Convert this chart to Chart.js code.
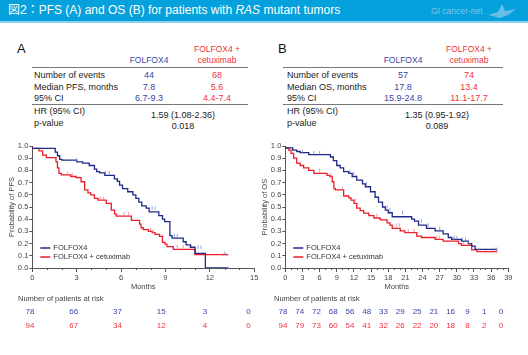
<!DOCTYPE html>
<html><head><meta charset="utf-8">
<script src="https://cdn.jsdelivr.net/npm/chart.js@4/dist/chart.umd.min.js"></script>
<style>
body{margin:0;width:528px;height:355px;position:relative;background:#fff;font-family:"Liberation Sans",Arial,sans-serif;overflow:hidden}
#hdr{position:absolute;left:0;top:0;width:528px;height:21px;background:#05a1dd;border-bottom:2px solid #8ed1ef}
#ttl{position:absolute;left:8px;top:3px;color:#fff;font-size:12px;line-height:15px;white-space:nowrap;font-family:"Liberation Sans","Noto Sans CJK JP",sans-serif}
#brand{position:absolute;left:431px;top:6px;color:#7fc6ea;font-size:8.5px;line-height:10px;white-space:nowrap}
.t{position:absolute;white-space:nowrap;line-height:11px;transform:translateY(-50%)}
.c{transform:translate(-50%,-50%);text-align:center}
.hl{position:absolute;height:1px;background:#777}
canvas{position:absolute}
</style></head>
<body>
<div id="hdr"><div id="ttl">図2：PFS (A) and OS (B) for patients with <i>RAS</i> mutant tumors</div>
<div id="brand">GI cancer-net</div>
<svg style="position:absolute;left:486px;top:1px" width="36" height="20"><polygon points="2,14 12,11 16,3 19,10 30,8 22,14 14,17" fill="#7fc6ea" opacity="0.8"/></svg>
</div>
<div id="tables"></div>
<canvas id="cA" width="264" height="200" style="left:0;top:135px"></canvas>
<canvas id="cB" width="272" height="200" style="left:256px;top:135px"></canvas>
<script>
// ---------- data ----------
const seriesNames = ['FOLFOX4', 'FOLFOX4 + cetuximab'];
const tableHeaders = ['FOLFOX4', 'FOLFOX4 +', 'cetuximab'];
const tableRowLabelsA = ['Number of events', 'Median PFS, months', '95% CI'];
const tableFolfoxA = ['44', '7.8', '6.7-9.3'];
const tableCetuxA = ['68', '5.6', '4.4-7.4'];
const hrA = '1.59 (1.08-2.36)';
const pA = '0.018';
const tableRowLabelsB = ['Number of events', 'Median OS, months', '95% CI'];
const tableFolfoxB = ['57', '17.8', '15.9-24.8'];
const tableCetuxB = ['74', '13.4', '11.1-17.7'];
const hrB = '1.35 (0.95-1.92)';
const pB = '0.089';

const pfsMonthsFolfox = [0,1.55,1.7,1.85,2.0,3.0,3.4,3.85,4.2,4.35,4.55,4.9,5.55,5.75,5.9,6.1,6.45,6.8,7.0,7.2,7.4,7.7,7.9,8.55,8.8,8.95,9.3,9.45,10.2,10.4,10.7,11.0,11.7,13.25];
const pfsProbFolfox   = [1,0.98,0.95,0.92,0.89,0.885,0.87,0.86,0.84,0.81,0.79,0.78,0.76,0.73,0.71,0.68,0.65,0.625,0.60,0.57,0.54,0.51,0.49,0.46,0.43,0.40,0.38,0.265,0.245,0.215,0.19,0.17,0.12,0.0];
const pfsMonthsCetux  = [0,0.45,0.7,0.95,1.6,1.7,1.8,1.96,2.6,2.97,3.3,3.54,3.76,3.95,4.2,4.44,5.0,5.34,5.56,5.67,6.7,7.25,7.35,7.5,7.85,8.1,8.3,8.6,8.8,8.97,9.1,9.53,11.0,12.6,13.25];
const pfsProbCetux    = [1,0.98,0.96,0.926,0.905,0.87,0.82,0.776,0.764,0.75,0.74,0.707,0.64,0.615,0.60,0.57,0.557,0.53,0.475,0.443,0.426,0.39,0.36,0.33,0.315,0.30,0.29,0.275,0.26,0.21,0.195,0.175,0.153,0.11,0.11];
const pfsCensorFolfox = [3.0,4.95,5.2,8.1,8.3,9.6,9.8,11.2,11.4,13.0];
const pfsCensorCetux  = [2.4,2.7,4.6,4.8,6.2,6.5,8.0,8.2,9.8,10.2,10.6,12.9,13.1];

const osMonthsFolfox = [0,1.3,2.0,2.6,4.1,7.9,8.4,9.0,9.6,10.2,11.1,11.7,12.5,13.5,14.0,14.9,15.7,16.3,17.0,17.5,18.0,18.7,22.1,22.6,23.3,24.7,26.2,27.6,28.5,29.1,30.8,32.0,32.6,33.2,33.5,37.0];
const osProbFolfox   = [1,0.985,0.967,0.955,0.945,0.93,0.91,0.88,0.84,0.82,0.79,0.776,0.75,0.72,0.69,0.666,0.625,0.58,0.54,0.50,0.475,0.453,0.42,0.40,0.385,0.352,0.325,0.305,0.28,0.25,0.235,0.22,0.20,0.18,0.153,0.153];
const osMonthsCetux  = [0,0.6,1.0,1.46,2.0,2.6,3.2,4.1,5.0,7.3,7.8,8.2,8.5,8.75,10.2,11.1,11.5,12.0,12.5,13.1,13.7,14.6,15.5,16.6,17.8,18.3,18.7,20.1,20.9,23.0,23.8,26.2,27.6,30.3,30.8,32.6,33.5,33.8,37.0];
const osProbCetux    = [1,0.98,0.967,0.94,0.90,0.86,0.84,0.82,0.80,0.776,0.76,0.75,0.707,0.65,0.64,0.59,0.575,0.557,0.53,0.49,0.47,0.45,0.43,0.41,0.395,0.37,0.352,0.325,0.305,0.29,0.262,0.25,0.235,0.22,0.20,0.185,0.148,0.135,0.135];
const osCensorFolfox = [3.0,5.0,6.0,11.3,12.0,14.2,17.8,18.3,20.5,23.8,25.0,27.0,29.5,30.0,31.0,31.5,32.0,36.5,37.0];
const osCensorCetux  = [6.0,8.0,10.0,12.3,16.0,19.5,20.0,21.5,22.5,26.5,27.0,29.5,31.2,32.0,33.7,35.0,36.0,37.0];

const pfsTicks = [0,3,6,9,12,15];
const osTicks = [0,3,6,9,12,15,18,21,24,27,30,33,36,39];
const riskPfsFolfox = [78,66,37,15,3,0];
const riskPfsCetux  = [94,67,34,12,4,0];
const riskOsFolfox  = [78,74,72,68,56,48,33,29,25,21,16,9,1,0];
const riskOsCetux   = [94,79,73,60,54,41,32,26,22,20,18,8,2,0];

// ---------- styles ----------
const BLUE = '#1c2a86', RED = '#ec1c2a';
const BLUE_LT = 'rgba(110,128,200,0.7)', RED_LT = 'rgba(240,120,130,0.75)';
const BLUE_TXT = '#3646a6', RED_TXT = '#f0303e';
const FAM = '"Liberation Sans", Arial, sans-serif';

// ---------- tables ----------
const tb = document.getElementById('tables');
function txt(s, x, y, opt) {
  const d = document.createElement('div');
  d.className = 't' + (opt.center ? ' c' : '');
  d.textContent = s;
  d.style.left = x + 'px'; d.style.top = y + 'px';
  d.style.fontSize = (opt.size || 9) + 'px';
  d.style.color = opt.color || '#222';
  tb.appendChild(d);
}
function hline(x1, x2, y) {
  const d = document.createElement('div');
  d.className = 'hl';
  d.style.left = x1 + 'px'; d.style.top = y + 'px'; d.style.width = (x2 - x1) + 'px';
  tb.appendChild(d);
}
function table(letter, lx, labx, c1, c2, hrx, x1, x2, labels, v1, v2, hr, p) {
  txt(letter, lx, 48, {size: 13, color: '#111'});
  txt(tableHeaders[0], c1, 59.5, {center: true, size: 8.5, color: BLUE_TXT});
  txt(tableHeaders[1], c2, 48.5, {center: true, size: 8.5, color: RED_TXT});
  txt(tableHeaders[2], c2, 59.5, {center: true, size: 8.5, color: RED_TXT});
  hline(x1, x2, 66.5);
  const ys = [75, 86.5, 98];
  labels.forEach((l, i) => {
    txt(l, labx, ys[i], {size: 9});
    txt(v1[i], c1, ys[i], {center: true, size: 9, color: BLUE_TXT});
    txt(v2[i], c2, ys[i], {center: true, size: 9, color: RED_TXT});
  });
  hline(x1, x2, 103.5);
  txt('HR (95% CI)', labx, 110.5, {size: 9});
  txt('p-value', labx, 122.5, {size: 9});
  txt(hr, hrx, 115, {center: true, size: 9});
  txt(p, hrx, 125.5, {center: true, size: 9});
}
table('A', 17, 34, 149, 217, 183, 32, 248, tableRowLabelsA, tableFolfoxA, tableCetuxA, hrA, pA);
table('B', 278, 287, 403, 469, 437, 283, 503, tableRowLabelsB, tableFolfoxB, tableCetuxB, hrB, pB);

// ---------- charts ----------
const extras = {
  id: 'extras',
  afterDraw(chart) {
    const o = chart.options.plugins.extras;
    const ctx = chart.ctx, xs = chart.scales.x, ca = chart.chartArea;
    ctx.save();
    ctx.strokeStyle = '#555'; ctx.lineWidth = 1;
    ctx.beginPath();
    for (let m = 0; m <= xs.max; m++) {
      if (m % 3 === 0) continue;
      const px = Math.round(xs.getPixelForValue(m)) + 0.5;
      ctx.moveTo(px, ca.bottom); ctx.lineTo(px, ca.bottom + 2);
    }
    ctx.stroke();
    const ly = [ca.bottom - 20, ca.bottom - 11];
    const cols = [BLUE, RED];
    ctx.font = '7.5px ' + FAM; ctx.textBaseline = 'middle'; ctx.fillStyle = '#333';
    seriesNames.forEach((n, i) => {
      ctx.strokeStyle = cols[i]; ctx.lineWidth = 1.5;
      ctx.beginPath(); ctx.moveTo(ca.left + 8, ly[i]); ctx.lineTo(ca.left + 18, ly[i]); ctx.stroke();
      ctx.fillText(n, ca.left + 21, ly[i]);
    });
    ctx.fillStyle = '#444'; ctx.textAlign = 'left';
    ctx.fillText('Number of patients at risk', o.labelX, 164);
    ctx.font = '8px ' + FAM; ctx.textAlign = 'center';
    const rows = [[o.risk1, BLUE_TXT, 177], [o.risk2, RED_TXT, 191]];
    rows.forEach(([arr, c, y]) => {
      ctx.fillStyle = c;
      arr.forEach((v, i) => {
        const px = xs.getPixelForValue(o.ticks[i]);
        const x = ca.left + (px - ca.left) * o.riskScale + o.riskShift;
        ctx.fillText(String(v), x, y);
      });
    });
    ctx.restore();
  }
};

function stepAt(t, s, x) {
  let y = s[0];
  for (let i = 0; i < t.length; i++) { if (t[i] <= x) y = s[i]; }
  return y;
}

function km(canvasId, t1, s1, c1, t2, s2, c2, xTicks, xmax, yWidth, rightPad, yTitle, risk1, risk2, labelX, riskScale, riskShift, yTitlePad) {
  const ds = (t, s, c) => ({
    data: t.map((v, i) => ({x: v, y: s[i]})),
    borderColor: c, borderWidth: 1.3, stepped: 'after', pointRadius: 0, fill: false
  });
  const cs = (cens, t, s, c) => ({
    data: cens.map(v => ({x: v, y: stepAt(t, s, v)})),
    showLine: false, pointStyle: 'line', rotation: 90, pointRadius: 1.8,
    pointBorderColor: c, pointBorderWidth: 1, borderColor: c
  });
  return new Chart(document.getElementById(canvasId), {
    type: 'line',
    data: {datasets: [cs(c1, t1, s1, BLUE_LT), cs(c2, t2, s2, RED_LT), ds(t1, s1, BLUE), ds(t2, s2, RED)]},
    plugins: [extras],
    options: {
      responsive: false, animation: false, devicePixelRatio: 1,
      layout: {padding: {left: 0, right: rightPad, top: 11, bottom: 40}},
      plugins: {
        legend: {display: false}, tooltip: {enabled: false},
        extras: {risk1, risk2, ticks: xTicks, labelX, riskScale, riskShift}
      },
      scales: {
        x: {
          type: 'linear', min: 0, max: xmax,
          afterFit(s) { s.height = 27; },
          afterBuildTicks(s) { s.ticks = xTicks.map(v => ({value: v})); },
          grid: {drawOnChartArea: false, tickLength: 4, tickColor: '#555'},
          border: {color: '#555', width: 1},
          ticks: {font: {size: 7.5, family: FAM}, color: '#444', padding: 1, maxRotation: 0, autoSkip: false},
          title: {display: true, text: 'Months', font: {size: 7.5, family: FAM}, color: '#444', padding: {top: 0, bottom: 4}}
        },
        y: {
          min: 0, max: 1,
          afterFit(s) { s.width = yWidth; },
          grid: {drawOnChartArea: false, tickLength: 3, tickColor: '#555'},
          border: {color: '#555', width: 1},
          ticks: {stepSize: 0.1, font: {size: 7.5, family: FAM}, color: '#444', padding: 1, callback: v => Number(v).toFixed(1)},
          title: {display: true, text: yTitle, font: {size: 7.5, family: FAM}, color: '#444', padding: {top: yTitlePad, bottom: 0}}
        }
      }
    }
  });
}

km('cA', pfsMonthsFolfox, pfsProbFolfox, pfsCensorFolfox, pfsMonthsCetux, pfsProbCetux, pfsCensorCetux, pfsTicks, 15, 32.3, 9.8,
   'Probability of PFS', riskPfsFolfox, riskPfsCetux, 18, 0.985, -2.3, 7);
km('cB', osMonthsFolfox, osProbFolfox, osCensorFolfox, osMonthsCetux, osProbCetux, osCensorCetux, osTicks, 39, 29.3, 19.7,
   'Probability of OS', riskOsFolfox, riskOsCetux, 18, 0.977, -2.3, 4);
</script>
</body></html>
